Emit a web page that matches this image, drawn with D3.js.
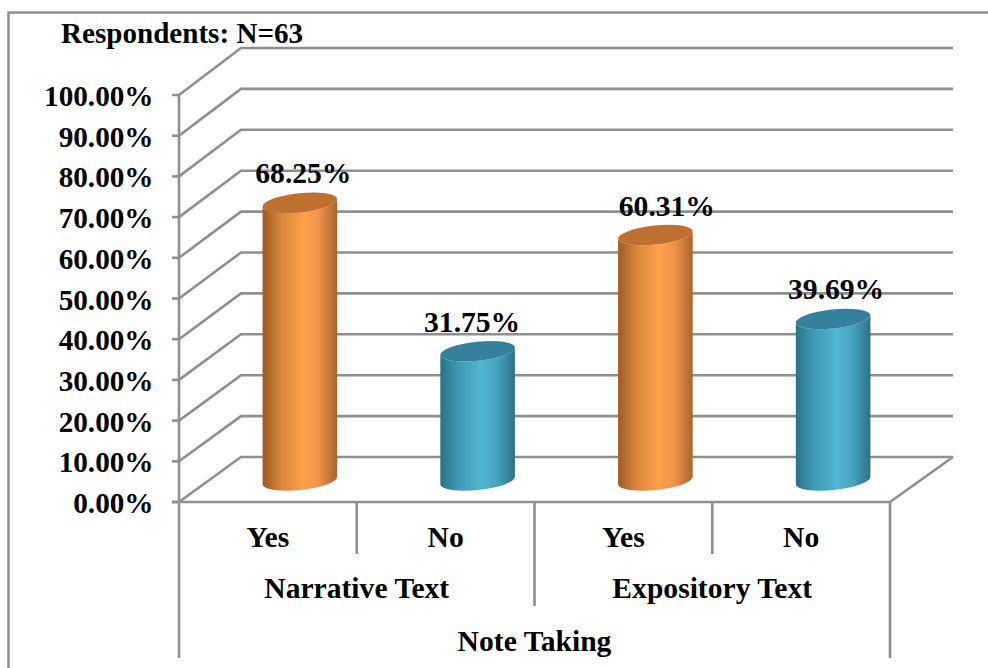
<!DOCTYPE html>
<html>
<head>
<meta charset="utf-8">
<script src="https://cdn.jsdelivr.net/npm/d3@7"></script>
<style>
  html, body { margin: 0; padding: 0; background: #fff; }
  svg { display: block; }
  text { font-family: "Liberation Serif", serif; font-weight: 700; fill: #000; }
</style>
</head>
<body>
<div id="chart"></div>
<script>
const responses = ["Yes", "No", "Yes", "No"];
const textTypes = ["Narrative Text", "Expository Text"];
const outerCategory = "Note Taking";
const percentages = [68.25, 31.75, 60.31, 39.69];
const seriesKinds = ["yes", "no", "yes", "no"];
const tickValues = [0, 10, 20, 30, 40, 50, 60, 70, 80, 90, 100];
const titleText = "Respondents: N=63";

const width = 988, height = 668;
const gridColor = "#8f8f8f";
const fontSize = 29.6;

const svg = d3.select("#chart").append("svg")
  .attr("width", width).attr("height", height);

const left = 179, right = 890, depthX = 62, floorY = 502;
const yFront = d3.scaleLinear().domain([0, 100]).range([floorY, 95]);
const yBack = d3.scaleLinear().domain([0, 100]).range([457, 48]);
// Bars stand midway through the floor depth.
const yBar = d3.scaleLinear().domain([0, 100]).range([480.5, 73.5]);

const x = d3.scaleBand().domain(d3.range(responses.length)).range([left, right]);
const xGroup = d3.scaleBand().domain(d3.range(textTypes.length)).range([left, right]);

// Page frame: only the top and left rules are visible.
svg.append("path").attr("d", `M8.5,${height}V12.5H${width}`)
  .attr("fill", "none").attr("stroke", gridColor).attr("stroke-width", 2.5);

// Gridlines run from the axis across the side wall and along the back wall.
const grid = svg.append("g").attr("fill", "none")
  .attr("stroke", gridColor).attr("stroke-width", 2.6);
grid.selectAll("path.gridline").data(tickValues).join("path")
  .attr("class", "gridline")
  .attr("d", v => `M${left},${yFront(v)}L${left + depthX},${yBack(v)}H953`);

// Floor edge, right-hand diagonal and the vertical value axis.
grid.append("path").attr("d", `M172,${floorY}H${right}L${right + 63},${yBack(0)}`);
grid.append("path").attr("d", `M${left},${yFront(100)}V658`);
grid.selectAll("path.tick").data(tickValues).join("path")
  .attr("class", "tick")
  .attr("d", v => `M172,${yFront(v)}H${left}`);

// Category separators for the three label tiers.
grid.append("path").attr("d", `M${right},${floorY}V658`);
grid.append("path").attr("d", `M${xGroup(1)},${floorY}V606`);
grid.selectAll("path.sep").data([1, 3]).join("path")
  .attr("class", "sep")
  .attr("d", i => `M${x(i)},${floorY}V554`);

// Horizontal shading across each cylinder body.
const defs = svg.append("defs");
const palette = {
  yes: { stops: ["#9f5a26", "#d98639", "#ffa04c", "#f2934a", "#a9642c"], top: "#bd7030" },
  no:  { stops: ["#2b7288", "#3f9ab4", "#50b6d2", "#46a5c0", "#2c7188"], top: "#35809a" }
};
Object.entries(palette).forEach(([kind, p]) => {
  const gradient = defs.append("linearGradient").attr("id", `body-${kind}`);
  const offsets = [0, 0.25, 0.55, 0.75, 1];
  p.stops.forEach((c, i) => gradient.append("stop")
    .attr("offset", offsets[i]).attr("stop-color", c));
});

// Cylinders, tilted slightly to follow the chart's perspective.
const rx = 37.5, ry = 9.5, tilt = -6;
const dx = rx * Math.cos(tilt * Math.PI / 180);
const dy = -rx * Math.sin(tilt * Math.PI / 180);
const barCenter = i => x(i) + x.bandwidth() / 2 + 32;

const bars = svg.append("g").selectAll("g").data(percentages).join("g");
bars.append("path")
  .attr("fill", (d, i) => `url(#body-${seriesKinds[i]})`)
  .attr("d", (d, i) => {
    const cx = barCenter(i), top = yBar(d), base = yBar(0);
    return `M${cx - dx},${top + dy}L${cx - dx},${base + dy}` +
      `A${rx},${ry} ${tilt} 0 0 ${cx + dx},${base - dy}` +
      `L${cx + dx},${top - dy}` +
      `A${rx},${ry} ${tilt} 0 1 ${cx - dx},${top + dy}Z`;
  });
bars.append("ellipse")
  .attr("rx", rx).attr("ry", ry)
  .attr("fill", (d, i) => palette[seriesKinds[i]].top)
  .attr("transform", (d, i) => `translate(${barCenter(i)},${yBar(d)}) rotate(${tilt})`);

// Value labels sit above each cylinder top.
const labelShift = [3.5, -5.5, 11.5, 3];
bars.append("text")
  .attr("x", (d, i) => barCenter(i) + labelShift[i])
  .attr("y", d => yBar(d) - 19.5)
  .attr("text-anchor", "middle")
  .attr("font-size", fontSize)
  .text(d => d.toFixed(2) + "%");

// Value axis labels.
svg.append("g").selectAll("text").data(tickValues).join("text")
  .attr("x", 153.5)
  .attr("y", v => yFront(v) + 11)
  .attr("text-anchor", "end")
  .attr("font-size", 29.2)
  .text(v => v.toFixed(2) + "%");

// Category labels.
svg.append("g").selectAll("text").data(responses).join("text")
  .attr("x", (d, i) => x(i) + x.bandwidth() / 2)
  .attr("y", 547)
  .attr("text-anchor", "middle")
  .attr("font-size", fontSize)
  .text(d => d);
svg.append("g").selectAll("text").data(textTypes).join("text")
  .attr("x", (d, i) => xGroup(i) + xGroup.bandwidth() / 2)
  .attr("y", 598)
  .attr("text-anchor", "middle")
  .attr("font-size", fontSize)
  .text(d => d);
svg.append("text")
  .attr("x", (left + right) / 2).attr("y", 651)
  .attr("text-anchor", "middle")
  .attr("font-size", fontSize)
  .text(outerCategory);

svg.append("text")
  .attr("x", 61).attr("y", 43)
  .attr("font-size", 29.1)
  .text(titleText);
</script>
</body>
</html>
